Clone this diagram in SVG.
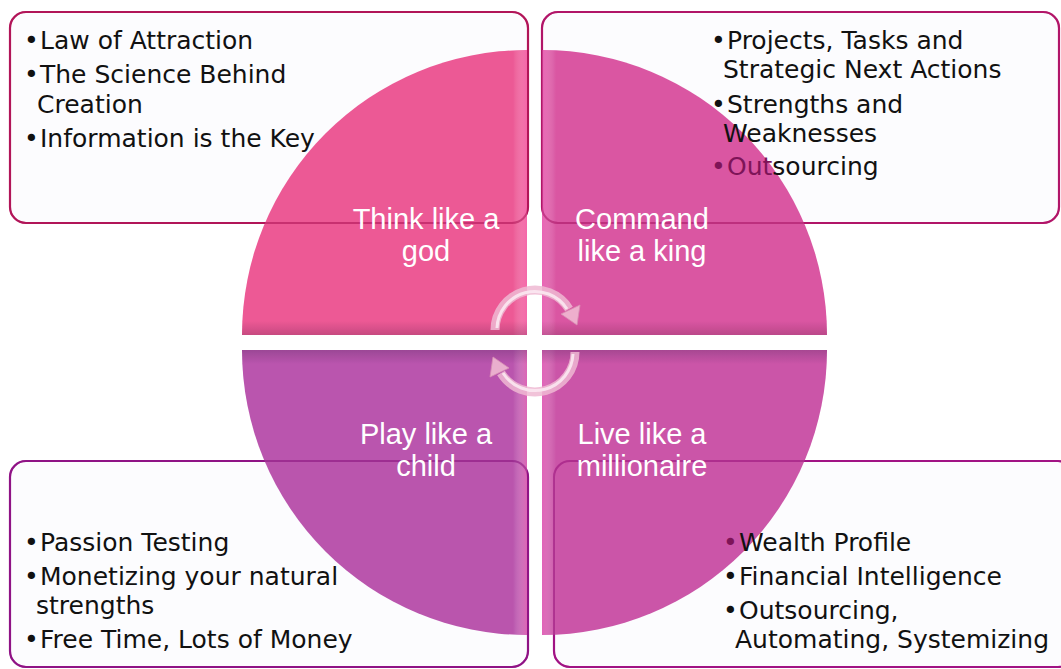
<svg xmlns="http://www.w3.org/2000/svg" width="1061" height="669" viewBox="0 0 1061 669">
<style>
.box{fill:#FCFCFE;stroke-width:2.2}
.bo{fill:none;stroke-width:2;opacity:0.45}
.tb{font-family:"DejaVu Sans","Liberation Sans",sans-serif;font-size:25px;fill:#111}
.lbl{font-family:"Liberation Sans",Arial,sans-serif;font-size:29px;fill:#fff;text-anchor:middle;font-weight:300}
.arc{fill:none;stroke:#EFB9D2;stroke-width:9;stroke-opacity:0.85;stroke-linecap:butt}
.arch{fill:none;stroke:#FBE8F1;stroke-width:3;stroke-opacity:0.9}
.ah{fill:#EFB9D2;fill-opacity:0.9;stroke:#D890B4;stroke-width:0.8}
</style>
<defs>
<linearGradient id="lightR" x1="0" y1="0" x2="1" y2="0"><stop offset="0" stop-color="#fff" stop-opacity="0"/><stop offset="1" stop-color="#FF6AB8" stop-opacity="0.5"/></linearGradient>
<linearGradient id="lightL" x1="1" y1="0" x2="0" y2="0"><stop offset="0" stop-color="#fff" stop-opacity="0"/><stop offset="1" stop-color="#FF6AC8" stop-opacity="0.45"/></linearGradient>
<linearGradient id="darkB" x1="0" y1="0" x2="0" y2="1"><stop offset="0" stop-color="#7A2050" stop-opacity="0"/><stop offset="1" stop-color="#7A2050" stop-opacity="0.35"/></linearGradient>
<linearGradient id="darkT" x1="0" y1="1" x2="0" y2="0"><stop offset="0" stop-color="#5A2060" stop-opacity="0"/><stop offset="1" stop-color="#5A2060" stop-opacity="0.35"/></linearGradient>
<clipPath id="cTL"><path d="M527,335 L242,335 A285,285 0 0 1 527,50 Z"/></clipPath>
<clipPath id="cTR"><path d="M542,335 L542,50 A285,285 0 0 1 827,335 Z"/></clipPath>
<clipPath id="cBL"><path d="M527,350 L527,635 A285,285 0 0 1 242,350 Z"/></clipPath>
<clipPath id="cBR"><path d="M542,350 L827,350 A285,285 0 0 1 542,635 Z"/></clipPath>
</defs>
<rect width="1061" height="669" fill="#fff"/>

<g id="box-tl"><rect class="box" x="10" y="12" width="518" height="211" rx="16" stroke="#C01A62"/></g>
<g id="box-tr"><rect class="box" x="542" y="12" width="517" height="211" rx="16" stroke="#C01A72"/></g>
<g id="box-bl"><rect class="box" x="10" y="461" width="518" height="206" rx="16" stroke="#9C1690"/></g>
<g id="box-br"><rect class="box" x="554" y="461" width="520" height="206" rx="16" stroke="#B0168E"/></g>

<g id="quad-tl" opacity="0.94">
<path d="M527,335 L242,335 A285,285 0 0 1 527,50 Z" fill="#EC4F8F"/>
<g clip-path="url(#cTL)"><rect x="513" y="40" width="14" height="295" fill="url(#lightR)"/><rect x="230" y="321" width="297" height="14" fill="url(#darkB)"/></g>
</g>
<g id="quad-tr" opacity="0.94">
<path d="M542,335 L542,50 A285,285 0 0 1 827,335 Z" fill="#D84C9D"/>
<g clip-path="url(#cTR)"><rect x="542" y="40" width="14" height="295" fill="url(#lightL)"/><rect x="542" y="321" width="297" height="14" fill="url(#darkB)"/></g>
</g>
<g id="quad-bl" opacity="0.94">
<path d="M527,350 L527,635 A285,285 0 0 1 242,350 Z" fill="#B64BA9"/>
<g clip-path="url(#cBL)"><rect x="513" y="350" width="14" height="295" fill="url(#lightR)"/><rect x="230" y="350" width="297" height="14" fill="url(#darkT)"/></g>
</g>
<g id="quad-br" opacity="0.94">
<path d="M542,350 L827,350 A285,285 0 0 1 542,635 Z" fill="#C84BA3"/>
<g clip-path="url(#cBR)"><rect x="542" y="350" width="14" height="295" fill="url(#lightL)"/><rect x="542" y="350" width="297" height="14" fill="url(#darkT)"/></g>
</g>

<g id="box-outlines-over">
<rect class="bo" x="10" y="12" width="518" height="211" rx="16" stroke="#A0104E"/>
<rect class="bo" x="542" y="12" width="517" height="211" rx="16" stroke="#A0105E"/>
<rect class="bo" x="10" y="461" width="518" height="206" rx="16" stroke="#801078"/>
<rect class="bo" x="554" y="461" width="520" height="206" rx="16" stroke="#901078"/>
</g>

<g id="connectors">
<path class="arc" d="M495,330 A40,40 0 0 1 569,309"/>
<path class="arch" d="M497,328 A38,38 0 0 1 567,309"/>
<polygon class="ah" points="561,314 580,305 577,325"/>
<path class="arc" d="M575,352 A40,40 0 0 1 501,373"/>
<path class="arch" d="M573,354 A38,38 0 0 1 503,373"/>
<polygon class="ah" points="509,368 490,377 493,357"/>
</g>

<g id="text-tl">
<text class="tb" y="49"><tspan x="24">•</tspan><tspan x="40">Law of Attraction</tspan></text>
<text class="tb" y="83"><tspan x="24">•</tspan><tspan x="40">The Science Behind</tspan></text>
<text class="tb" x="37" y="113">Creation</text>
<text class="tb" y="147"><tspan x="24">•</tspan><tspan x="40">Information is the Key</tspan></text>
</g>
<g id="text-tr">
<text class="tb" y="49"><tspan x="711">•</tspan><tspan x="727">Projects, Tasks and</tspan></text>
<text class="tb" x="723" y="78">Strategic Next Actions</text>
<text class="tb" y="113"><tspan x="711">•</tspan><tspan x="727">Strengths and</tspan></text>
<text class="tb" x="723" y="142">Weaknesses</text>
<text class="tb" y="175"><tspan x="711" fill="#7E1458">•</tspan><tspan x="727" fill="#7E1458">Out</tspan><tspan>sourcing</tspan></text>
</g>
<g id="text-bl">
<text class="tb" y="551"><tspan x="24">•</tspan><tspan x="40">Passion Testing</tspan></text>
<text class="tb" y="585"><tspan x="24">•</tspan><tspan x="40">Monetizing your natural</tspan></text>
<text class="tb" x="36" y="614">strengths</text>
<text class="tb" y="648"><tspan x="24">•</tspan><tspan x="40">Free Time, Lots of Money</tspan></text>
</g>
<g id="text-br">
<text class="tb" y="551"><tspan x="723" fill="#7E1458">•</tspan><tspan x="739">Wealth Profile</tspan></text>
<text class="tb" y="585"><tspan x="723">•</tspan><tspan x="739">Financial Intelligence</tspan></text>
<text class="tb" y="619"><tspan x="723">•</tspan><tspan x="739">Outsourcing,</tspan></text>
<text class="tb" x="735" y="648">Automating, Systemizing</text>
</g>

<g id="labels">
<text class="lbl" x="426" y="229">Think like a</text>
<text class="lbl" x="426" y="261">god</text>
<text class="lbl" x="642" y="229">Command</text>
<text class="lbl" x="642" y="261">like a king</text>
<text class="lbl" x="426" y="444">Play like a</text>
<text class="lbl" x="426" y="476">child</text>
<text class="lbl" x="642" y="444">Live like a</text>
<text class="lbl" x="642" y="476">millionaire</text>
</g>
</svg>
